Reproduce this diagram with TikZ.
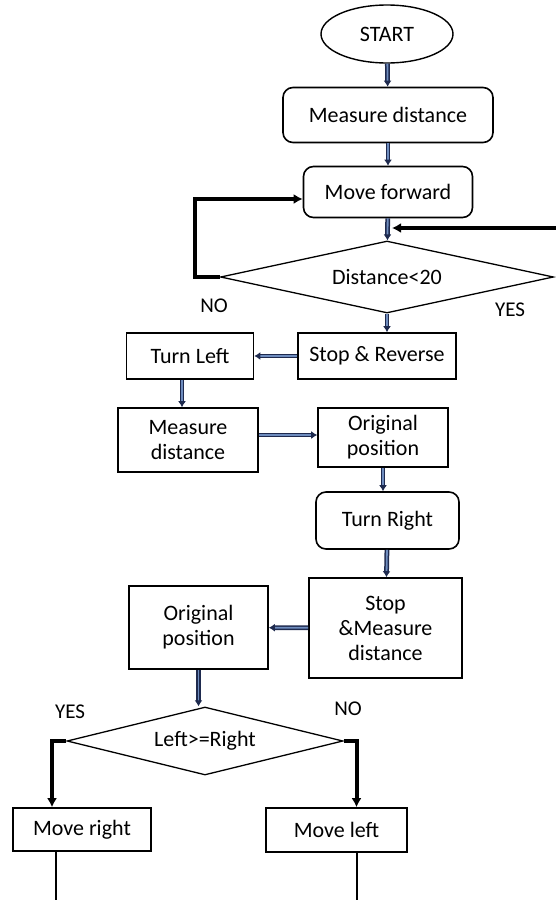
\documentclass[tikz,border=0pt]{standalone}
\usepackage{fontspec}
\setmainfont{Carlito}
\usepackage{tikz}
\usetikzlibrary{shapes.geometric, arrows.meta, positioning}
\definecolor{arrownavy}{RGB}{30, 42, 78}
\definecolor{arrowsteel}{RGB}{110, 140, 190}

\begin{document}
\begin{tikzpicture}[
        x=1pt, y=-1pt,
        every node/.style={font=\fontsize{22}{25}\selectfont},
        term/.style={ellipse, draw=black, line width=1.4pt, minimum width=132pt, minimum height=58pt, inner sep=0pt},
        rbox/.style={rectangle, rounded corners=10pt, draw=black, line width=1.6pt, align=center, inner sep=0pt},
        sbox/.style={rectangle, draw=black, line width=1.6pt, align=center, inner sep=0pt},
        decide/.style={diamond, draw=black, line width=1.3pt, aspect=4.5, inner sep=1pt},
        flow/.style={draw=arrownavy, double=arrowsteel, double distance=1.8pt, line width=1.5pt, -{Latex[length=6pt, width=8pt]}},
        backarrow/.style={draw=black, line width=4pt, -{Latex[length=9pt, width=10pt]}},
        exitline/.style={draw=black, line width=2.8pt},
        lbl/.style={font=\fontsize{21}{24}\selectfont}
    ]
        \useasboundingbox (0,0) rectangle (556,900);

        % Main column
        \node[term] (start) at (387,34) {START};
        \node[rbox, minimum width=210pt, minimum height=55pt] (meas1) at (388,115) {Measure distance};
        \node[rbox, minimum width=169pt, minimum height=51pt] (fwd) at (388,192) {Move forward};
        \node[decide, minimum width=333pt, minimum height=72pt] (dist) at (387,277) {Distance<20};
        \node[sbox, minimum width=158pt, minimum height=46pt] (rev) at (377,356) {Stop \& Reverse};

        % Left turn
        \node[sbox, minimum width=127pt, minimum height=46pt] (tleft) at (190,356) {Turn Left};
        \node[sbox, minimum width=140pt, minimum height=64pt] (meas2) at (188,440) {Measure\\distance};
        \node[sbox, minimum width=130pt, minimum height=59pt] (orig1) at (383,437.5) {Original\\position};

        % Right turn
        \node[rbox, minimum width=143pt, minimum height=57pt] (tright) at (387.5,520.5) {Turn Right};
        \node[sbox, minimum width=153pt, minimum height=100pt] (stopm) at (385.5,628) {Stop\\\&Measure\\distance};
        \node[sbox, minimum width=139pt, minimum height=83pt] (orig2) at (198.5,627.5) {Original\\position};

        % Decision
        \node[decide, minimum width=276pt, minimum height=68pt] (cmp) at (205,741) {Left>=Right};
        \node[sbox, minimum width=138pt, minimum height=43pt] (mright) at (82,829.5) {Move right};
        \node[sbox, minimum width=141pt, minimum height=44pt] (mleft) at (336.5,830) {Move left};

        % Labels
        \node[lbl] (no1) at (214,306) {NO};
        \node[lbl] (yes1) at (510,310) {YES};
        \node[lbl] (yes2) at (70,712) {YES};
        \node[lbl] (no2) at (348,709) {NO};

        % Free ends
        \coordinate (feed) at (556,228);
        \coordinate (outR) at (56,900);
        \coordinate (outL) at (357,900);

        % Connections
        \draw[flow] (start) -- (meas1);
        \draw[flow] (meas1) -- (fwd);
        \draw[flow] (fwd) -- (dist);
        \draw[flow] (dist.south) -- (dist.south |- rev.north);
        \draw[flow] (rev) -- (tleft);
        \draw[flow] ([xshift=-8pt]tleft.south) -- ([xshift=-8pt]tleft.south |- meas2.north);
        \draw[flow] ([yshift=5pt]meas2.east) -- ([yshift=5pt]meas2.east -| orig1.west);
        \draw[flow] (orig1.south) -- (orig1.south |- tright.north);
        \draw[flow] (tright) -- (stopm);
        \draw[flow] (stopm) -- (orig2);
        \draw[flow] (orig2.south) -- (orig2.south |- cmp.north);

        \draw[backarrow] (dist.west) -- ++(-25,0) |- ([yshift=-7pt]fwd.west);
        \draw[backarrow] (feed) -- ([xshift=4pt]fwd.south |- feed);
        \draw[backarrow] (cmp.west) -| ([xshift=-30pt]mright.north);
        \draw[backarrow] (cmp.east) -| ([xshift=20pt]mleft.north);

        \draw[exitline] (mright.south -| outR) -- (outR);
        \draw[exitline] (mleft.south -| outL) -- (outL);
    \end{tikzpicture}
\end{document}
